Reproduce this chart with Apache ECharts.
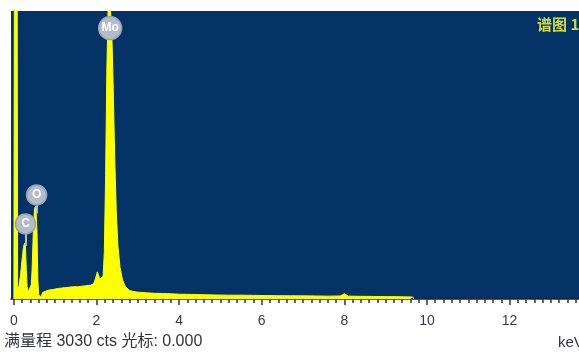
<!DOCTYPE html>
<html>
<head>
<meta charset="utf-8">
<script src="https://cdn.jsdelivr.net/npm/echarts@6/dist/echarts.min.js"></script>
<style>
html,body{margin:0;padding:0;background:#fff;}
#chart{width:579px;height:353px;}
</style>
</head>
<body>
<div id="chart"></div>
<script>
// Spectrum (keV vs counts)
const energies = [
  0.00, 0.02, 0.07, 0.09, 0.12, 0.16, 0.20, 0.23, 0.26, 0.28,
  0.30, 0.32, 0.35, 0.39, 0.42, 0.44, 0.47, 0.50, 0.53, 0.56,
  0.58, 0.60, 0.63, 0.66, 0.70, 0.76, 0.85, 0.95, 1.05, 1.15,
  1.25, 1.35, 1.45, 1.55, 1.65, 1.75, 1.85, 1.93, 1.98, 2.02,
  2.05, 2.08, 2.12, 2.16, 2.19, 2.22, 2.25, 2.28, 2.31, 2.34,
  2.37, 2.40, 2.44, 2.48, 2.52, 2.57, 2.63, 2.70, 2.80, 2.90,
  3.00, 3.20, 3.40, 3.60, 3.80, 4.00, 4.30, 4.60, 4.90, 5.20,
  5.50, 5.80, 6.10, 6.40, 6.70, 7.00, 7.30, 7.60, 7.90, 8.00,
  8.10, 8.40, 8.70, 9.00, 9.30, 9.60, 9.66, 9.68
];
const counts = [
  0, 6000, 6000, 100, 130, 250, 420, 540, 590, 560,
  300, 130, 75, 80, 150, 300, 700, 950, 980, 700,
  200, 40, 20, 25, 70, 80, 95, 100, 110, 115,
  120, 125, 130, 128, 135, 140, 145, 160, 220, 285,
  270, 210, 190, 240, 500, 1300, 2400, 3030, 3030, 3030,
  2800, 2300, 1500, 900, 550, 330, 200, 130, 90, 78,
  72, 65, 60, 58, 55, 50, 48, 45, 42, 40,
  40, 38, 36, 35, 34, 33, 32, 30, 32, 55,
  30, 28, 27, 25, 24, 22, 20, 0
];
// Element labels
const elemNames = ['C', 'O', 'Mo'];
const elemEnergy = [0.28, 0.55, 2.33];
const elemLabelCounts = [790, 1095, 2850];
const elemStickEnd = [560, 900, 2850];
// Axis ticks
const majorTicks = [0, 2, 4, 6, 8, 10, 12];
const tickLabels = ['0', '2', '4', '6', '8', '10', '12'];
const minorStep = 0.2;
const fullScale = 3030;

const minorTicks = [];
for (let i = 0; i <= 68; i++) minorTicks.push(+(i * minorStep).toFixed(2));

const spectrum = energies.map((e, i) => [e, counts[i]]);
const labelPts = elemNames.map((n, i) => ({ name: n, value: [elemEnergy[i], elemLabelCounts[i]], symbolSize: n === 'Mo' ? 23 : 20 }));
const sticks = elemNames.map((n, i) => [
  { coord: [elemEnergy[i], elemLabelCounts[i]] },
  { coord: [elemEnergy[i], elemStickEnd[i]] }
]);

const chart = echarts.init(document.getElementById('chart'), null, { renderer: 'canvas' });
const tickColor = '#333344';
chart.setOption({
  animation: false,
  backgroundColor: '#ffffff',
  grid: { left: 11, right: 0, top: 11, bottom: 54, show: true, backgroundColor: '#033366', borderWidth: 0 },
  xAxis: [
    {
      type: 'value', min: -0.07, max: 13.68,
      axisLine: { show: true, lineStyle: { color: '#222233', width: 1.5 } },
      axisTick: { show: true, length: 6, customValues: majorTicks, lineStyle: { color: tickColor, width: 1.5 } },
      axisLabel: {
        show: true, customValues: majorTicks, margin: 15,
        formatter: v => tickLabels[majorTicks.indexOf(Math.round(v))] || '',
        color: '#3c3552', fontSize: 14, fontFamily: 'Liberation Sans, Arial, sans-serif'
      },
      splitLine: { show: false }
    },
    {
      type: 'value', min: -0.07, max: 13.68, position: 'bottom',
      axisLine: { show: false },
      axisTick: { show: true, length: 4, customValues: minorTicks, lineStyle: { color: tickColor, width: 1.5 } },
      axisLabel: { show: false, customValues: minorTicks },
      splitLine: { show: false }
    }
  ],
  yAxis: {
    type: 'value', min: 0, max: fullScale,
    axisLine: { show: true, lineStyle: { color: '#1c1c3a', width: 1.5 } },
    axisTick: { show: false }, axisLabel: { show: false }, splitLine: { show: false }
  },
  series: [
    {
      type: 'line', data: spectrum, xAxisIndex: 0, symbol: 'none', clip: true,
      lineStyle: { color: '#ffff00', width: 1 },
      areaStyle: { color: '#ffff00', opacity: 1 },
      z: 2
    },
    {
      type: 'scatter', data: labelPts, xAxisIndex: 0, z: 5, clip: false,
      itemStyle: { color: '#b4bccb', borderColor: '#98a2b6', borderWidth: 1.5, opacity: 1 },
      label: {
        show: true, position: 'inside', formatter: p => p.name,
        color: '#ffffff', fontWeight: 'bold', fontSize: 12, fontFamily: 'Liberation Sans, Arial, sans-serif'
      },
      markLine: {
        silent: true, symbol: ['none', 'none'], z: 4,
        lineStyle: { color: '#b4bccb', width: 2, type: 'solid' },
        label: { show: false },
        data: sticks
      }
    }
  ],
  graphic: [
    { type: 'text', left: 537, top: 17, style: { text: '谱图 1', fill: '#d0dc40', font: 'bold 15px "Noto Sans CJK SC", sans-serif' } },
    { type: 'text', left: 4, top: 334, style: { text: '满量程 3030 cts 光标: 0.000', fill: '#333340', font: '16px "Liberation Sans", "Noto Sans CJK SC", sans-serif' } },
    { type: 'text', left: 558, top: 335, style: { text: 'keV', fill: '#333340', font: '15px "Liberation Sans", sans-serif' } }
  ]
});
</script>
</body>
</html>
